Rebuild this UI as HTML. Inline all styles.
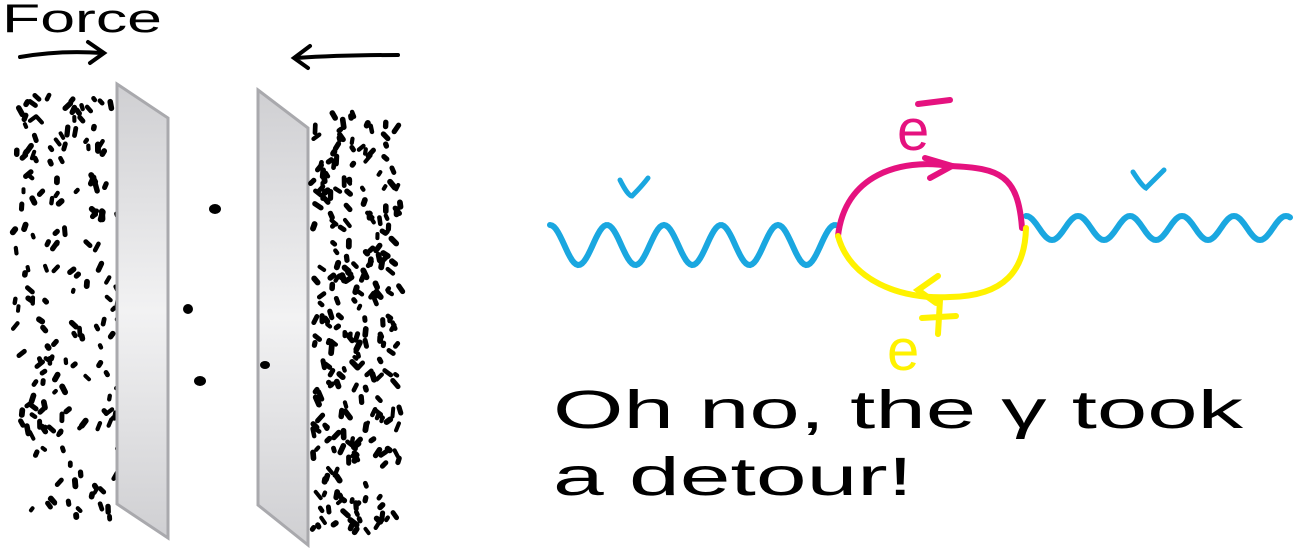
<!DOCTYPE html>
<html><head><meta charset="utf-8"><style>
html,body{margin:0;padding:0;background:#fff;width:1298px;height:548px;overflow:hidden}
svg{display:block}
text{font-family:"Liberation Sans",sans-serif}
</style></head><body>
<svg id="s" width="1298" height="548" viewBox="0 0 1298 548" xmlns="http://www.w3.org/2000/svg">
<defs>
<linearGradient id="g" x1="0" y1="0" x2="0" y2="1">
<stop offset="0" stop-color="#cfcfd2"/><stop offset="0.5" stop-color="#f2f2f3"/><stop offset="1" stop-color="#cfcfd2"/></linearGradient>
</defs>
<g id="dots" fill="#000" stroke="#000" stroke-linecap="round"></g>
<polygon points="117,84 168,118 168,538 117,504" fill="url(#g)" stroke="#a9a9ad" stroke-width="3"/>
<polygon points="258,90 308,128 308,545 258,505" fill="url(#g)" stroke="#a9a9ad" stroke-width="3"/>
<g id="dots2" fill="#000" stroke="#000" stroke-linecap="round"></g>
<ellipse cx="215" cy="209" rx="6" ry="5"/>
<ellipse cx="188" cy="309" rx="5" ry="5"/>
<ellipse cx="200" cy="381" rx="6" ry="5"/>
<ellipse cx="265" cy="365" rx="5" ry="4"/>
<text x="2" y="32" font-size="40" fill="#000" textLength="160" lengthAdjust="spacingAndGlyphs">Force</text>
<g fill="none" stroke="#000" stroke-width="4" stroke-linecap="round">
<path d="M20,57 Q60,50 102,53 M88,42 L104,53 L90,63"/>
<path d="M296,58 Q340,55 398,55 M310,46 L294,58 L308,68"/>
</g>
<g fill="none" stroke-width="6" stroke-linecap="round">
<path id="w1" stroke="#1aa7e0"/>
<path id="w2" stroke="#1aa7e0"/>
<path d="M838,236 C845,175 900,158 950,166 C1000,168 1018,175 1022,228" stroke="#e5127f"/>
<path d="M838,236 C850,280 900,300 950,297 C1005,296 1025,270 1026,228" stroke="#fff200"/>
<path d="M925,158 L952,166 L930,178" stroke="#e5127f"/>
<path d="M938,276 L918,290 L936,303" stroke="#fff200"/>
<path d="M620,180 Q628,196 632,196 Q642,186 648,178" stroke="#1aa7e0" stroke-width="5"/>
<path d="M1133,172 Q1142,186 1146,188 Q1156,178 1164,170" stroke="#1aa7e0" stroke-width="5"/>
</g>
<text x="897" y="150" font-size="58" fill="#e5127f">e</text>
<path d="M918,104 L950,100" stroke="#e5127f" stroke-width="6" stroke-linecap="round"/>
<text x="887" y="370" font-size="58" fill="#fff200">e</text>
<path d="M922,318 L956,316 M940,300 L938,334" stroke="#fff200" stroke-width="6" stroke-linecap="round"/>
<text x="553" y="428" font-size="54" fill="#000" textLength="690" lengthAdjust="spacingAndGlyphs">Oh  no, the γ took</text>
<text x="553" y="495" font-size="54" fill="#000" textLength="360" lengthAdjust="spacingAndGlyphs">a detour!</text>
</svg>
<script>
function wave(x0,x1,y,a,p){let d="M"+x0+","+(y+a);for(let x=x0;x<=x1;x+=2){d+=" L"+x+","+(y+a*Math.cos((x-x0)/p*2*Math.PI)).toFixed(1);}return d;}
document.getElementById('w1').setAttribute('d',wave(550,836,245,-20,57));
document.getElementById('w2').setAttribute('d',wave(1026,1290,228,-12,52));
let seed=7;function r(){seed=(seed*9301+49297)%233280;return seed/233280;}
function fill(id,x0,x1,y0,y1,n){let g=document.getElementById(id),h="";for(let i=0;i<n;i++){let x=x0+r()*(x1-x0),y=y0+r()*(y1-y0),l=2+r()*6,a=Math.PI/2+(r()-0.5)*2;h+='<line x1="'+x.toFixed(1)+'" y1="'+y.toFixed(1)+'" x2="'+(x+l*Math.cos(a)).toFixed(1)+'" y2="'+(y+l*Math.sin(a)).toFixed(1)+'" stroke-width="'+(4+r()*2).toFixed(1)+'"/>';}g.innerHTML=h;}
fill('dots',15,135,95,520,210);
fill('dots2',312,400,110,530,260);
</script>
</body></html>
